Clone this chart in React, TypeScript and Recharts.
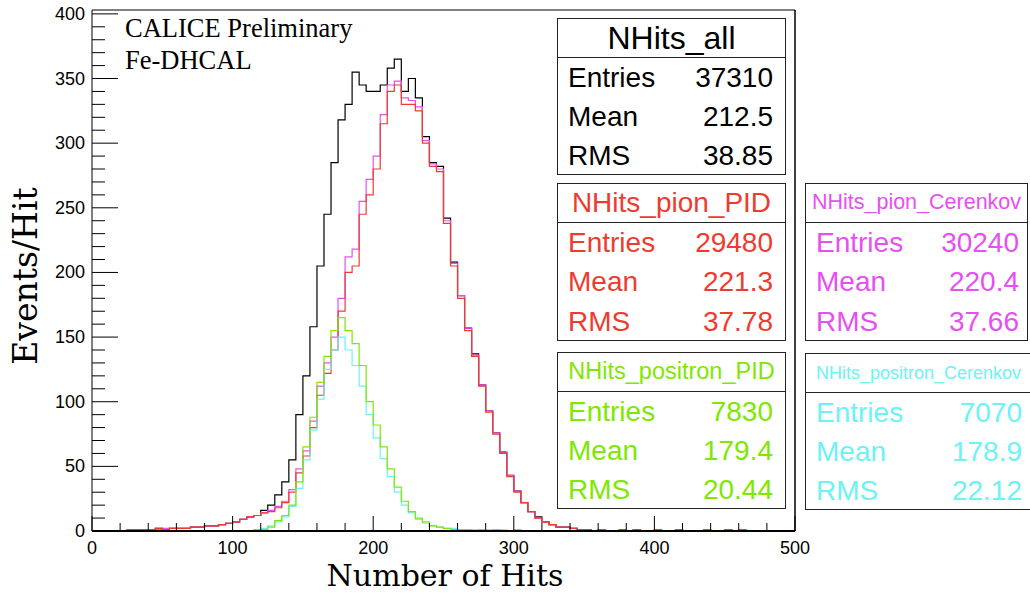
import { LineChart, Line, XAxis, YAxis, ReferenceLine } from 'recharts';

// histogram counts per bin of 5 hits, starting at the given hit value
const binWidth = 5;
const xMax = 500;
const yMax = 403;

const allStart = 20;
const allCounts = [
  0, 1, 1, 1, 1, 2, 1, 2, 2, 2, 3, 3, 4, 4, 5, 6, 7, 9, 11, 12,
  16, 20, 28, 38, 55, 90, 120, 158, 205, 245, 285, 318, 330, 355, 345, 340, 340, 345, 358, 365,
  340, 350, 335, 305, 285, 282, 242, 208, 182, 157, 137, 113, 93, 76, 61, 43, 31, 22, 15, 11,
  7, 5, 3, 3, 2, 1, 1, 0, 1, 0, 0, 1, 0, 1, 0, 0, 1, 0, 0, 1, 0, 0, 0, 1, 0, 0, 1, 0, 1,
];

const pionPidStart = 20;
const pionPidCounts = [
  0, 1, 1, 1, 1, 2, 1, 2, 2, 2, 3, 3, 4, 4, 5, 6, 7, 9, 11, 12,
  14, 15, 18, 22, 30, 45, 58, 80, 105, 122, 140, 170, 200, 205, 245, 260, 280, 315, 340, 345,
  330, 330, 325, 300, 282, 278, 238, 205, 180, 155, 135, 112, 92, 75, 60, 42, 30, 22, 15, 10,
  7, 5, 3, 3, 2, 1, 1, 0, 1, 0, 0, 1, 0, 1, 0, 0, 1, 0, 0, 1, 0, 0, 0, 1, 0, 0, 1, 0, 1,
];

const pionCerStart = 20;
const pionCerCounts = [
  0, 1, 1, 1, 1, 1, 2, 2, 2, 2, 3, 3, 4, 4, 5, 6, 7, 9, 11, 12,
  14, 16, 19, 23, 32, 48, 62, 85, 112, 130, 150, 180, 212, 218, 255, 272, 290, 322, 345, 348,
  335, 333, 328, 302, 284, 280, 240, 207, 182, 157, 136, 113, 93, 76, 61, 43, 31, 22, 15, 10,
  7, 5, 3, 3, 2, 1, 1, 0, 1,
];

const posPidStart = 110;
const posPidCounts = [
  0, 1, 1, 3, 8, 12, 20, 38, 65, 88, 115, 135, 155, 165, 155, 145, 128, 100, 82, 65,
  48, 34, 23, 15, 10, 7, 4, 3, 2, 1, 1, 1, 0, 1, 0, 1, 0, 0, 1,
];

const posCerStart = 110;
const posCerCounts = [
  0, 1, 2, 4, 7, 11, 19, 33, 55, 78, 102, 125, 140, 150, 140, 128, 112, 90, 72, 56,
  42, 30, 20, 14, 9, 6, 4, 3, 2, 2, 1, 1, 1, 1, 1, 0, 1,
];

const xTicks = [0, 20, 40, 60, 80, 100, 120, 140, 160, 180, 200, 220, 240, 260, 280, 300, 320, 340, 360, 380, 400, 420, 440, 460, 480, 500];
const yTicks = [0, 10, 20, 30, 40, 50, 60, 70, 80, 90, 100, 110, 120, 130, 140, 150, 160, 170, 180, 190, 200, 210, 220, 230, 240, 250, 260, 270, 280, 290, 300, 310, 320, 330, 340, 350, 360, 370, 380, 390, 400];

const statNames = ['NHits_all', 'NHits_pion_PID', 'NHits_pion_Cerenkov', 'NHits_positron_PID', 'NHits_positron_Cerenkov'];
const statEntries = ['37310', '29480', '30240', '7830', '7070'];
const statMeans = ['212.5', '221.3', '220.4', '179.4', '178.9'];
const statRms = ['38.85', '37.78', '37.66', '20.44', '22.12'];

const colors = {
  all: '#000000',
  pionPid: '#ef3b2f',
  pionCer: '#e650f2',
  posPid: '#7ee800',
  posCer: '#6cf2f7',
};

const valueAt = (start: number, counts: number[], edge: number) => {
  const i = (edge - start) / binWidth;
  return i >= 0 && i < counts.length ? counts[i] : 0;
};

const edges = Array.from({ length: xMax / binWidth + 1 }, (_, i) => i * binWidth);
const rows = edges.map((e) => ({
  hits: e,
  all: valueAt(allStart, allCounts, e),
  pionPid: valueAt(pionPidStart, pionPidCounts, e),
  pionCer: valueAt(pionCerStart, pionCerCounts, e),
  posPid: valueAt(posPidStart, posPidCounts, e),
  posCer: valueAt(posCerStart, posCerCounts, e),
}));

const sans = '"Liberation Sans", Arial, Helvetica, sans-serif';
const serif = '"Liberation Serif", "Times New Roman", serif';
const wideSerif = '"DejaVu Serif", serif';

const YTick = (props: any) => {
  const { x, y, payload } = props;
  const major = payload.value % 50 === 0;
  return (
    <g>
      <line x1={x} x2={x + (major ? 26 : 13)} y1={y} y2={y} stroke="#000" strokeWidth={1} />
      {major && (
        <text x={x - 7} y={y} textAnchor="end" dominantBaseline="central" fontSize={18} fontFamily={sans} fill="#000">
          {payload.value}
        </text>
      )}
    </g>
  );
};

const XTick = (props: any) => {
  const { x, y, payload } = props;
  const major = payload.value % 100 === 0;
  return (
    <g>
      <line x1={x} x2={x} y1={y} y2={y - (major ? 15 : 8)} stroke="#000" strokeWidth={1} />
      {major && (
        <text x={x} y={y + 17} textAnchor="middle" dominantBaseline="central" fontSize={18} fontFamily={sans} fill="#000">
          {payload.value}
        </text>
      )}
    </g>
  );
};

interface StatBoxProps {
  idx: number;
  left: number;
  top: number;
  width: number;
  height: number;
  titleSize: number;
  color: string;
  padRight: number;
}

const StatBox = ({ idx, left, top, width, height, titleSize, color, padRight }: StatBoxProps) => {
  const titleH = 39;
  const rowH = (height - titleH) / 3;
  const row = (label: string, value: string) => (
    <div style={{ height: rowH, display: 'flex', justifyContent: 'space-between', alignItems: 'center', padding: `0 ${padRight}px 0 10px` }}>
      <span>{label}</span>
      <span>{value}</span>
    </div>
  );
  return (
    <div
      style={{
        position: 'absolute', left, top, width, height, boxSizing: 'border-box',
        border: '1px solid #222', background: '#fff', color, fontFamily: sans, fontSize: 28, lineHeight: 1,
      }}
    >
      <div style={{ height: titleH, boxSizing: 'border-box', borderBottom: '1px solid #222', display: 'flex', alignItems: 'center', justifyContent: 'center', fontSize: titleSize, whiteSpace: 'nowrap' }}>
        {statNames[idx]}
      </div>
      {row('Entries', statEntries[idx])}
      {row('Mean', statMeans[idx])}
      {row('RMS', statRms[idx])}
    </div>
  );
};

export default function App() {
  return (
    <div style={{ position: 'absolute', left: 0, top: 0, width: 1030, height: 597, background: '#fff', overflow: 'hidden' }}>
      <LineChart width={1030} height={597} data={rows} margin={{ top: 10, right: 235, bottom: 0, left: 0 }}>
        <XAxis
          dataKey="hits"
          type="number"
          domain={[0, xMax]}
          ticks={xTicks}
          interval={0}
          height={66}
          tickSize={0}
          tickMargin={0}
          tickLine={false}
          tick={<XTick />}
          axisLine={{ stroke: '#000', strokeWidth: 2 }}
        />
        <YAxis
          type="number"
          domain={[0, yMax]}
          ticks={yTicks}
          interval={0}
          width={92}
          tickSize={0}
          tickMargin={0}
          tickLine={false}
          tick={<YTick />}
          axisLine={{ stroke: '#000', strokeWidth: 1 }}
        />
        <ReferenceLine y={yMax} stroke="#000" strokeWidth={1} />
        <ReferenceLine x={xMax} stroke="#000" strokeWidth={1.5} />
        <Line type="stepAfter" dataKey="all" stroke={colors.all} strokeWidth={1.2} dot={false} isAnimationActive={false} />
        <Line type="stepAfter" dataKey="pionCer" stroke={colors.pionCer} strokeWidth={1.2} dot={false} isAnimationActive={false} />
        <Line type="stepAfter" dataKey="pionPid" stroke={colors.pionPid} strokeWidth={1.2} dot={false} isAnimationActive={false} />
        <Line type="stepAfter" dataKey="posCer" stroke={colors.posCer} strokeWidth={1.2} dot={false} isAnimationActive={false} />
        <Line type="stepAfter" dataKey="posPid" stroke={colors.posPid} strokeWidth={1.2} dot={false} isAnimationActive={false} />
      </LineChart>

      <div style={{ position: 'absolute', left: 125, top: 15, fontFamily: serif, fontSize: 26.5, lineHeight: '26px', whiteSpace: 'nowrap' }}>
        CALICE Preliminary
      </div>
      <div style={{ position: 'absolute', left: 125, top: 47, fontFamily: serif, fontSize: 26.5, lineHeight: '26px', whiteSpace: 'nowrap' }}>
        Fe-DHCAL
      </div>

      <div
        style={{
          position: 'absolute', left: 25, top: 276, transform: 'translate(-50%, -50%) rotate(-90deg)',
          fontFamily: wideSerif, fontSize: 33, lineHeight: 1, whiteSpace: 'nowrap',
        }}
      >
        Events/Hit
      </div>
      <div
        style={{
          position: 'absolute', left: 445, top: 576, transform: 'translate(-50%, -50%)',
          fontFamily: wideSerif, fontSize: 30, lineHeight: 1, whiteSpace: 'nowrap',
        }}
      >
        Number of Hits
      </div>

      <StatBox idx={0} left={557} top={18} width={229} height={157} titleSize={32} color="#000" padRight={12} />
      <StatBox idx={1} left={557} top={183} width={229} height={158} titleSize={28} color={colors.pionPid} padRight={12} />
      <StatBox idx={2} left={805} top={183} width={223} height={158} titleSize={21.5} color={colors.pionCer} padRight={8} />
      <StatBox idx={3} left={557} top={352} width={229} height={157} titleSize={23.5} color={colors.posPid} padRight={12} />
      <StatBox idx={4} left={805} top={353} width={227} height={157} titleSize={18} color={colors.posCer} padRight={9} />
    </div>
  );
}
